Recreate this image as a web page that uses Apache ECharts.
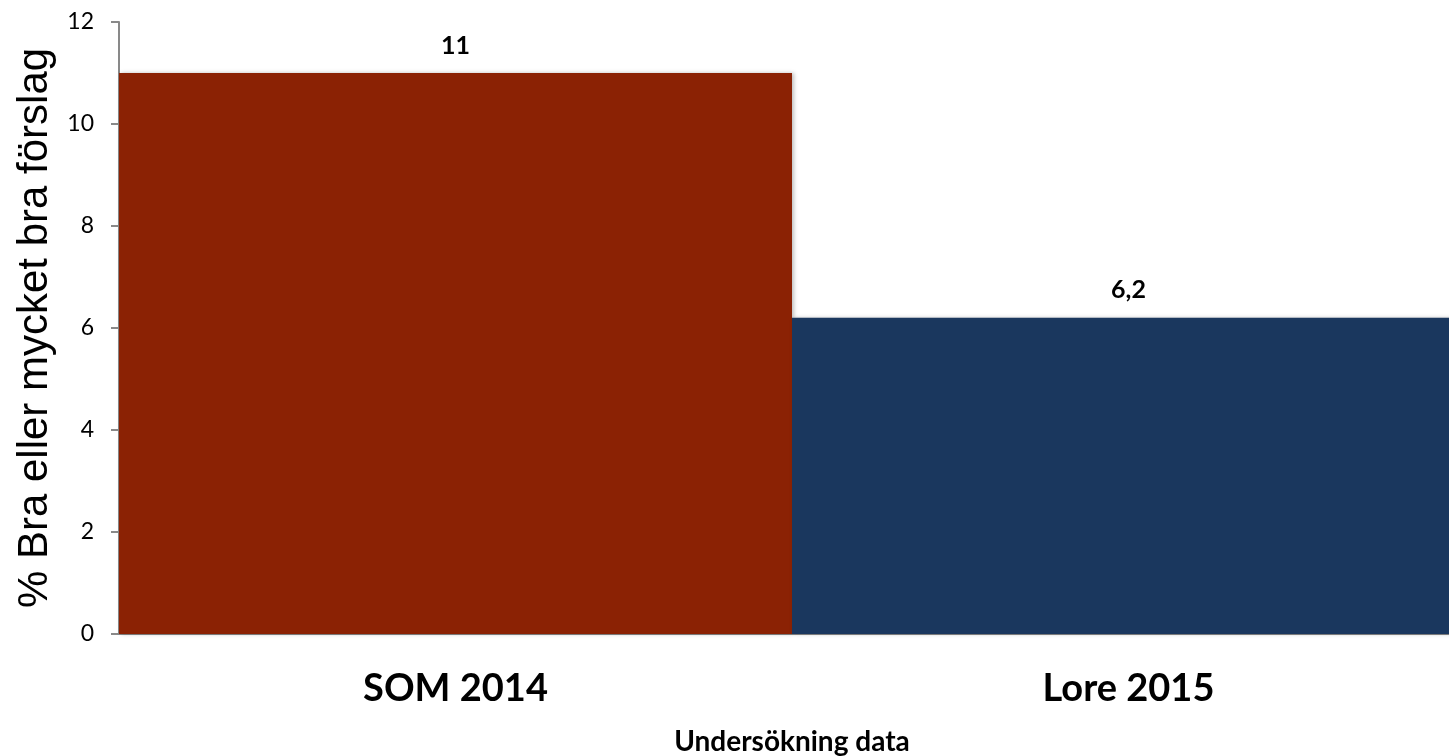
<!DOCTYPE html>
<html>
<head>
<meta charset="utf-8">
<script src="https://cdn.jsdelivr.net/npm/echarts@6/dist/echarts.min.js"></script>
<style>
html, body { margin: 0; padding: 0; background: #fff; }
#chart { width: 1449px; height: 756px; }
</style>
</head>
<body>
<div id="chart"></div>
<script>
var categories = ['SOM 2014', 'Lore 2015'];
var values = [11, 6.2];
var barColors = ['#8B2204', '#1A375E'];
var yTicks = { min: 0, max: 12, interval: 2 };

var myChart = echarts.init(document.getElementById('chart'));
var option = {
    animation: false,
    grid: {
        left: 119,
        right: -16,
        top: 22,
        bottom: 122,
        outerBoundsMode: 'none',
        containLabel: false
    },
    xAxis: {
        type: 'category',
        data: categories,
        name: 'Undersökning data',
        nameLocation: 'middle',
        nameGap: 94,
        nameTextStyle: {
            fontFamily: 'Lato',
            fontWeight: 'bold',
            fontSize: 28,
            color: '#000'
        },
        axisLine: { lineStyle: { color: '#898989', width: 2 } },
        axisTick: { show: false },
        axisLabel: {
            margin: 36,
            fontFamily: 'Lato',
            fontWeight: 'bold',
            fontSize: 38,
            color: '#000'
        }
    },
    yAxis: {
        type: 'value',
        min: yTicks.min,
        max: yTicks.max,
        interval: yTicks.interval,
        name: '% Bra eller mycket bra förslag',
        nameLocation: 'middle',
        nameGap: 63,
        nameTextStyle: {
            fontFamily: 'Liberation Sans',
            fontSize: 42,
            color: '#000'
        },
        axisLine: { show: true, lineStyle: { color: '#898989', width: 2 } },
        axisTick: { show: true, length: 8, lineStyle: { color: '#898989', width: 2 } },
        splitLine: { show: false },
        axisLabel: {
            margin: 25,
            fontFamily: 'Lato',
            fontSize: 23,
            color: '#000'
        }
    },
    series: [{
        type: 'bar',
        barCategoryGap: 0,
        data: values.map(function (v, i) {
            return { value: v, itemStyle: { color: barColors[i] } };
        }),
        itemStyle: {
            shadowColor: 'rgba(0,0,0,0.25)',
            shadowBlur: 4,
            shadowOffsetX: 2
        },
        label: {
            show: true,
            position: 'top',
            distance: 15,
            fontFamily: 'Lato',
            fontWeight: 'bold',
            fontSize: 25,
            color: '#000',
            formatter: function (p) {
                return String(p.value).replace('.', ',');
            }
        }
    }]
};
myChart.setOption(option);
</script>
</body>
</html>
